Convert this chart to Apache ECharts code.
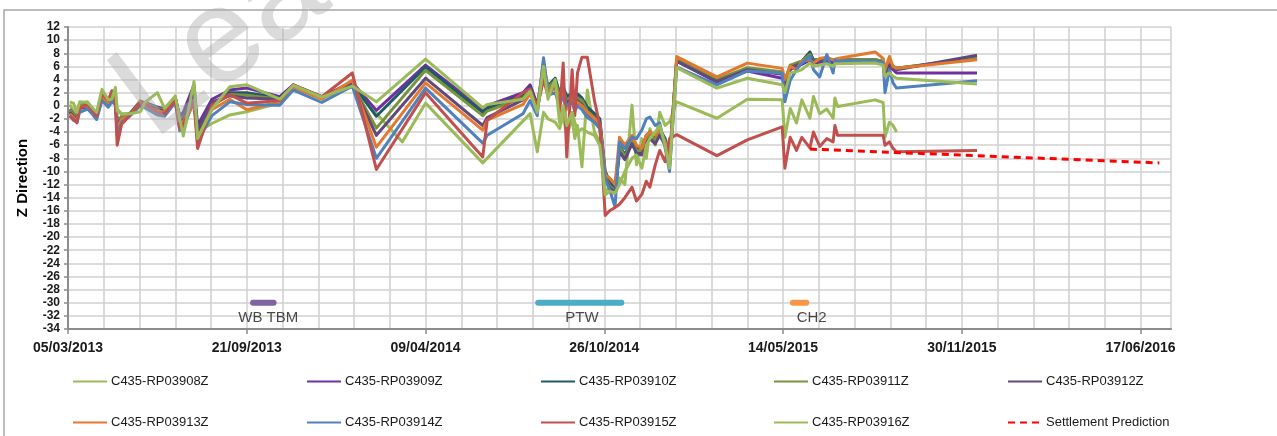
<!DOCTYPE html>
<html>
<head>
<meta charset="utf-8">
<title>Z Direction</title>
<script src="https://cdn.jsdelivr.net/npm/echarts@6/dist/echarts.min.js"></script>
<style>
  html, body { margin: 0; padding: 0; background: #fff; }
  #chart { width: 1277px; height: 436px; }
</style>
</head>
<body>
<div id="chart"></div>
<script>
// survey dates, shared by the nine prisms
const dates = [
  '2013-03-07', '2013-03-11', '2013-03-15', '2013-03-18', '2013-03-27', '2013-04-02', '2013-04-06', '2013-04-12',
  '2013-04-19', '2013-04-23', '2013-04-27', '2013-04-29', '2013-05-04', '2013-05-13', '2013-05-25', '2013-05-30',
  '2013-06-13', '2013-06-21', '2013-07-03', '2013-07-08', '2013-07-12', '2013-07-24', '2013-07-28', '2013-08-13',
  '2013-09-02', '2013-09-21', '2013-10-28', '2013-11-12', '2013-12-14', '2014-01-17', '2014-02-13', '2014-03-14',
  '2014-04-09', '2014-06-12', '2014-06-17', '2014-07-27', '2014-08-04', '2014-08-12', '2014-08-19', '2014-08-24',
  '2014-09-01', '2014-09-06', '2014-09-10', '2014-09-14', '2014-09-20', '2014-09-23', '2014-09-26', '2014-10-01',
  '2014-10-07', '2014-10-15', '2014-10-21', '2014-10-27', '2014-11-01', '2014-11-07', '2014-11-12', '2014-11-18',
  '2014-11-26', '2014-12-01', '2014-12-07', '2014-12-12', '2014-12-16', '2014-12-22', '2014-12-27', '2015-01-02',
  '2015-01-07', '2015-01-15', '2015-03-01', '2015-04-04', '2015-05-13', '2015-05-16', '2015-05-22', '2015-05-29',
  '2015-06-04', '2015-06-13', '2015-06-17', '2015-06-24', '2015-07-02', '2015-07-09', '2015-07-11', '2015-07-14',
  '2015-08-25', '2015-09-03', '2015-09-05', '2015-09-10', '2015-09-14', '2015-09-18', '2015-12-17'
]

const rp03908 = [
  0.2, -0.8, -1.5, 0.4, 0.6, -0.6, -1.2, 2.0, 0.8, 1.6, 2.2, -0.5, -1.2, -1.2, 0.8, 0.2,
  -0.5, -0.3, 1.0, -2.5, -4.0, 1.5, -4.0, -2.7, -1.4, -0.9, 0.4, 3.0, 1.2, 2.9, null, -5.5,
  0.4, -8.7, null, null, -1.2, -7.0, -1.0, -2.0, -2.5, -3.5, -1.5, -4.5, -2.0, -5.0, -3.0, -9.3,
  2.4, -4.0, -5.5, -13.0, -12.5, -13.5, -11.0, -12.0, 0.1, -9.0, -5.0, -8.0, -3.5, -6.0, -1.0, -3.0,
  -2.4, 0.6, -1.9, 1.0, 0.9, -4.8, -0.4, -2.6, 0.9, -1.9, 1.4, -1.2, -0.5, -1.9, 1.2, -0.1,
  0.9, 0.5, -4.8, -2.5, -3.0, -4.0, null
]
const rp03909 = [
  -0.5, -1.2, -1.8, 0.0, 0.3, -0.8, -1.5, 1.6, 0.5, 1.5, 1.0, -2.5, -1.6, -1.2, 0.6, 0.5,
  -0.2, -0.5, 1.2, -1.5, -1.0, 3.2, -3.0, 1.0, 2.4, 2.7, 1.4, 3.2, 1.4, 3.6, -0.7, null,
  6.2, -0.6, 0.0, 2.0, 3.2, 0.2, 5.0, 2.5, 4.0, 1.8, 2.5, 1.0, 2.0, 0.5, 1.5, 1.0,
  -0.5, -1.5, -2.5, -10.5, -12.0, -13.0, -6.5, -8.0, -5.5, -7.0, -7.0, -5.0, -4.0, -5.0, -3.7, -5.5,
  -8.5, 6.8, 3.6, 5.3, 4.2, 3.0, 5.5, 6.0, 6.3, 7.0, 6.5, 6.6, 6.8, 6.5, 6.6, 6.6,
  6.6, 6.4, 5.0, 6.0, 5.5, 5.0, 5.0
]
const rp03910 = [
  -0.8, -1.5, -2.0, -0.3, 0.0, -1.0, -1.7, 1.4, 0.3, 1.2, 0.8, -2.2, -1.8, -1.3, 0.5, 0.3,
  -0.5, -0.8, 1.3, -1.8, -1.5, 2.0, -3.5, 0.2, 2.0, 2.0, 1.2, 3.0, 1.3, 3.4, -1.6, null,
  5.9, -1.0, -0.4, 1.6, 2.8, 0.0, 5.5, 3.0, 4.2, 2.0, 2.8, 1.5, 1.8, 0.8, 1.8, 1.2,
  -0.2, -1.2, -2.0, -10.0, -11.5, -12.5, -6.0, -7.5, -5.0, -6.5, -6.5, -4.5, -4.0, -4.8, -3.5, -5.0,
  -8.0, 7.0, 3.9, 5.6, 5.0, 3.5, 6.0, 6.5, 6.8, 8.2, 7.0, 7.0, 7.2, 6.8, 7.0, 7.0,
  7.0, 6.8, 5.5, 6.5, 6.0, 5.7, 7.3
]
const rp03911 = [
  -0.6, -1.3, -1.9, 0.0, 0.2, -0.8, -1.6, 1.5, 0.4, 1.4, 1.0, -2.4, -1.7, -1.3, 0.4, 0.4,
  -0.4, -0.6, 1.2, -2.0, -1.8, 1.5, -4.0, 0.0, 1.7, 1.6, 1.0, 3.1, 1.3, 3.3, -3.4, null,
  5.4, -1.5, -0.8, 1.2, 2.4, -0.2, 6.5, 2.8, 3.8, 1.5, 2.2, 0.8, 1.5, 0.2, 1.2, 0.8,
  -0.8, -1.8, -2.8, -10.8, -12.2, -13.0, -6.2, -7.8, -5.3, -6.8, -6.8, -5.0, -4.5, -5.2, -4.0, -5.8,
  -8.8, 7.2, 4.0, 5.8, 5.2, 3.8, 6.2, 6.5, 6.8, 7.8, 6.8, 7.0, 7.2, 6.8, 7.0, 7.0,
  7.0, 6.8, 5.2, 6.5, 5.8, 5.7, 7.2
]
const rp03912 = [
  -1.0, -1.6, -2.1, -0.4, -0.2, -1.1, -1.8, 1.2, 0.2, 1.0, 0.6, -2.8, -2.0, -1.4, 0.3, 0.2,
  -0.6, -0.8, 1.0, -2.2, -2.0, 1.8, -3.8, 0.6, 1.5, 1.2, 1.0, 3.0, 1.2, 3.3, -4.5, null,
  4.2, -3.0, -1.8, 0.9, 2.2, -0.4, 4.5, 2.2, 3.0, 1.0, 1.6, 0.5, 1.0, -0.2, 0.8, 0.2,
  -1.2, -2.2, -3.0, -11.0, -12.5, -13.3, -7.0, -8.2, -5.8, -7.2, -7.5, -5.5, -5.0, -5.8, -4.5, -6.0,
  -9.0, 6.8, 3.7, 5.5, 4.8, 3.5, 5.8, 6.2, 6.5, 7.5, 6.8, 6.8, 7.0, 6.6, 6.8, 6.8,
  6.8, 6.6, 5.0, 6.2, 5.8, 5.5, 7.7
]
const rp03913 = [
  -1.2, -1.8, -2.3, -0.2, 0.0, -1.0, -1.7, 1.4, 0.4, 1.8, 1.0, -3.5, -2.0, -1.5, 0.5, 0.0,
  -0.8, -1.0, 0.9, -3.0, -2.5, 0.5, -5.0, -0.6, 1.0, -0.6, 0.6, 2.8, 1.0, 3.9, -6.3, null,
  3.5, -3.7, -2.2, 0.2, 1.8, -0.6, 7.0, 2.0, 3.5, 0.5, 2.0, -0.5, 1.0, -0.5, 0.5, 0.0,
  -1.0, -2.0, -2.8, -10.5, -11.0, -12.0, -4.8, -6.0, -4.5, -6.0, -6.5, -4.5, -4.0, -4.5, -3.5, -5.5,
  -8.5, 7.5, 4.4, 6.5, 5.7, 4.0, 6.0, 5.5, 6.8, 7.0, 6.5, 7.2, 7.4, 7.0, 7.2, 7.2,
  8.2, 7.2, 5.5, 7.5, 6.0, 5.7, 7.0
]
const rp03914 = [
  -1.5, -2.2, -2.5, -1.0, -0.5, -1.4, -2.1, 0.8, -0.2, 0.6, 0.2, -4.5, -2.5, -1.6, 0.0, -0.3,
  -1.4, -1.6, 0.5, -3.8, -3.2, 0.8, -5.5, -1.5, 0.6, 0.2, 0.1, 2.4, 0.5, 3.0, -8.0, null,
  2.7, -5.7, -4.5, -1.2, 0.8, -1.5, 7.3, 1.6, 2.0, 0.2, 1.4, 0.0, 0.5, -0.8, 0.0, -0.6,
  -1.8, -2.5, -3.5, -11.2, -12.8, -15.4, -5.5, -6.5, -4.8, -5.0, -3.7, -2.0, -1.7, -3.0, -2.6, -6.4,
  -10.0, 5.9, 3.2, 5.3, 5.0, 0.6, 3.9, 5.5, 6.5, 7.5, 5.5, 4.4, 7.8, 5.0, 7.0, 6.8,
  6.8, 6.6, 2.0, 5.5, 3.5, 2.7, 3.8
]
const rp03915 = [
  -1.6, -2.0, -2.6, -0.3, 0.2, -0.9, -1.6, 1.8, 0.8, 2.3, 0.5, -6.0, -2.8, -1.5, 0.4, 0.3,
  -1.0, -1.2, 0.8, -3.5, -2.8, 0.5, -6.5, 0.1, 1.7, 0.4, 0.8, 3.2, 1.4, 5.0, -9.7, null,
  2.0, -7.8, -2.2, 2.0, 2.6, -0.3, 4.0, 1.5, 3.0, -1.0, 6.5, -7.8, 5.5, -1.5, 5.0, 7.4,
  7.4, 0.8, -3.0, -16.7, -16.0, -15.5, -15.0, -14.0, -12.4, -14.5, -13.5, -11.5, -12.4, -9.0, -6.8, -8.5,
  -5.0, -4.4, -7.6, -5.2, -3.2, -9.5, -4.8, -6.8, -4.8, -6.4, -4.0, -6.2, -5.0, -5.5, -3.0, -4.5,
  -4.5, -4.5, -6.0, -5.5, -6.5, -7.0, -6.8
]
const rp03916 = [
  0.6, 0.4, -1.0, 0.6, 0.5, -0.4, -1.0, 2.5, 0.9, 1.0, 2.8, -0.8, -1.3, -1.2, -0.9, 0.5,
  2.0, -0.4, 1.5, -2.0, -4.6, 3.7, -5.0, -0.5, 2.9, 3.2, 1.0, 3.1, 1.3, 3.0, 0.6, null,
  7.1, -0.3, 0.2, 1.0, 2.2, -1.0, 6.0, 1.0, 4.0, -2.6, 0.0, -3.0, -1.0, -2.5, -4.0, -3.5,
  -4.0, -4.5, -6.0, -13.6, -13.0, -13.3, -12.0, -10.0, -8.0, -7.5, -9.5, -6.0, -5.0, -4.0, -3.0, -6.0,
  -9.5, 5.8, 2.7, 4.2, 3.2, 2.0, 5.0, 5.2, 5.5, 6.5, 6.0, 6.2, 6.4, 6.0, 6.4, 6.4,
  6.5, 6.2, 4.5, 5.0, 4.5, 4.2, 3.3
]

const seriesNames = [
  'C435-RP03908Z', 'C435-RP03909Z', 'C435-RP03910Z', 'C435-RP03911Z', 'C435-RP03912Z',
  'C435-RP03913Z', 'C435-RP03914Z', 'C435-RP03915Z', 'C435-RP03916Z'
]
const seriesColors = ['#9bbb59', '#7030a0', '#215968', '#77933c', '#604a7b', '#e3782f', '#4f81bd', '#c0504d', '#9bbb59']
const seriesValues = [rp03908, rp03909, rp03910, rp03911, rp03912, rp03913, rp03914, rp03915, rp03916]

const predictionDates = ['2015-06-13', '2016-07-08']
const predictionValues = [-6.6, -8.7]

// construction stages drawn as bars at -30
const stageNames = ['WB TBM', 'PTW', 'CH2']
const stageStart = ['2013-09-28', '2014-08-13', '2015-05-25']
const stageEnd = ['2013-10-21', '2014-11-14', '2015-06-09']
const stageLabelDates = ['2013-10-15', '2014-10-01', '2015-06-15']
const stageColors = ['#8064a2', '#4bacc6', '#f79646']
const stageLevel = -30
const stageLabelLevel = -32.3

const legendColumns = [
  ['C435-RP03908Z', 'C435-RP03913Z'],
  ['C435-RP03909Z', 'C435-RP03914Z'],
  ['C435-RP03910Z', 'C435-RP03915Z'],
  ['C435-RP03911Z', 'C435-RP03916Z'],
  ['C435-RP03912Z', 'Settlement Prediction']
]
const legendLeft = [67, 301, 535, 768, 1002]

const BASE = Date.UTC(2013, 2, 5)
const DAY = 86400000
const xMax = 1234 // right end of the axis, ~21/07/2016
const font = "'Liberation Sans', Arial, sans-serif"

const toDay = s => {
    const [y, m, d] = s.split('-').map(Number)
    return Math.round((Date.UTC(y, m - 1, d) - BASE) / DAY)
}
const dayLabel = v => {
    const dt = new Date(BASE + v * DAY)
    const pad = n => String(n).padStart(2, '0')
    return `${pad(dt.getUTCDate())}/${pad(dt.getUTCMonth() + 1)}/${dt.getUTCFullYear()}`
}
const pairs = (ds, vals) => ds.map((d, i) => [toDay(d), vals[i]]).filter(p => p[1] !== null)

const series = seriesNames.map((name, i) => ({
    name,
    type: 'line',
    data: pairs(dates, seriesValues[i]),
    symbol: 'none',
    color: seriesColors[i],
    lineStyle: { width: 3, color: seriesColors[i], join: 'round' },
    animation: false,
}))

series.push({
    name: 'Settlement Prediction',
    type: 'line',
    data: pairs(predictionDates, predictionValues),
    symbol: 'none',
    color: '#ff0000',
    lineStyle: { width: 3, type: [7, 5], color: '#ff0000' },
    animation: false,
})

stageNames.forEach((name, i) => {
    series.push({
        name,
        type: 'line',
        data: [[toDay(stageStart[i]), stageLevel], [toDay(stageEnd[i]), stageLevel]],
        symbol: 'none',
        lineStyle: { width: 6, color: stageColors[i], cap: 'round' },
        animation: false,
    })
})

series.push({
    name: 'stage labels',
    type: 'scatter',
    symbolSize: 1,
    itemStyle: { color: 'rgba(0,0,0,0)' },
    data: stageNames.map((n, i) => ({ name: n, value: [toDay(stageLabelDates[i]), stageLabelLevel] })),
    label: {
        show: true,
        position: 'inside',
        formatter: p => p.name,
        fontFamily: font,
        fontSize: 15,
        color: '#1a1a1a',
    },
    animation: false,
})

const legends = legendColumns.map((col, i) => ({
    data: col,
    orient: 'vertical',
    left: legendLeft[i],
    top: 370,
    itemWidth: 34,
    itemHeight: 10,
    itemGap: 28,
    itemStyle: { opacity: 0 },
    textStyle: { fontFamily: font, fontSize: 13, color: '#1a1a1a', padding: [0, 0, 0, -1] },
}))

const option = {
    backgroundColor: '#fff',
    animation: false,
    legend: legends,
    grid: { left: 68, right: 106, top: 27, bottom: 107 },
    xAxis: {
        type: 'value',
        min: 0,
        max: xMax,
        interval: 200,
        axisLine: { onZero: false, lineStyle: { color: '#8c8c8c', width: 2 } },
        axisTick: { length: 5, lineStyle: { color: '#8c8c8c', width: 1.5 } },
        minorTick: { show: false, splitNumber: 5 },
        axisLabel: {
            formatter: v => (v % 200 === 0 ? dayLabel(v) : ''),
            showMaxLabel: false,
            fontFamily: font,
            fontWeight: 'bold',
            fontSize: 14,
            color: '#1a1a1a',
            margin: 12,
        },
        splitLine: { show: true, lineStyle: { color: '#d0d0d0', width: 1.5 } },
        minorSplitLine: { show: true, lineStyle: { color: '#d0d0d0', width: 1.5 } },
    },
    yAxis: {
        type: 'value',
        min: -34,
        max: 12,
        interval: 2,
        name: 'Z Direction',
        nameLocation: 'middle',
        nameRotate: 90,
        nameGap: 38,
        nameTextStyle: { fontFamily: font, fontWeight: 'bold', fontSize: 15, color: '#000' },
        axisLine: { show: true, lineStyle: { color: '#8c8c8c', width: 2 } },
        axisTick: { show: true, length: 4, lineStyle: { color: '#8c8c8c', width: 1.5 } },
        axisLabel: { fontFamily: font, fontWeight: 'bold', fontSize: 12, color: '#1a1a1a', margin: 8 },
        splitLine: { show: true, lineStyle: { color: '#d0d0d0', width: 1.5 } },
    },
    graphic: [
        {
            type: 'rect',
            z: -10,
            shape: { x: 4, y: 10, width: 1300, height: 450 },
            style: { fill: 'none', stroke: '#a6a6a6', lineWidth: 1.5 },
        },
        {
            type: 'text',
            z: 100,
            x: 172,
            y: 165,
            rotation: (37 * Math.PI) / 180,
            style: {
                text: 'Lea',
                font: `normal 135px ${font}`,
                fill: 'rgba(175,175,175,0.45)',
                textVerticalAlign: 'bottom',
            },
        },
    ],
    series,
}

const myChart = echarts.init(document.getElementById('chart'))
myChart.setOption(option)
</script>
</body>
</html>
